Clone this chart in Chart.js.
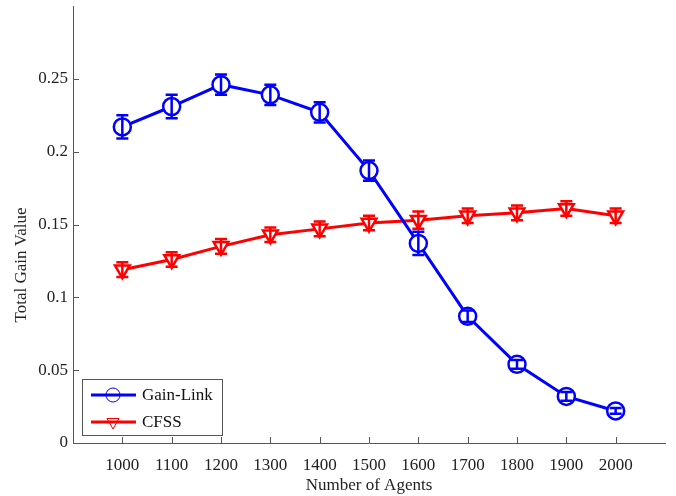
<!DOCTYPE html>
<html>
<head>
<meta charset="utf-8">
<script src="https://cdn.jsdelivr.net/npm/chart.js@4.4.1/dist/chart.umd.min.js"></script>
<style>
  html, body { margin: 0; padding: 0; background: #fff; }
  #wrap { width: 676px; height: 496px; }
</style>
</head>
<body>
<div id="wrap"><canvas id="gain-chart"></canvas></div>
<script>
// values
var agents = [1000, 1100, 1200, 1300, 1400, 1500, 1600, 1700, 1800, 1900, 2000];
var gainLink = [0.217, 0.231, 0.246, 0.239, 0.227, 0.187, 0.137, 0.087, 0.054, 0.032, 0.022];
var gainLinkErr = [0.008, 0.008, 0.007, 0.007, 0.007, 0.007, 0.008, 0.004, 0.003, 0.003, 0.002];
var cfss = [0.119, 0.126, 0.135, 0.143, 0.147, 0.151, 0.153, 0.156, 0.158, 0.161, 0.156];
var cfssErr = [0.005, 0.005, 0.005, 0.005, 0.005, 0.005, 0.006, 0.005, 0.005, 0.005, 0.005];
var xTicks = [1000, 1100, 1200, 1300, 1400, 1500, 1600, 1700, 1800, 1900, 2000];
var yTicks = [0, 0.05, 0.1, 0.15, 0.2, 0.25];
var yMax = 0.3;
var seriesNames = ['Gain-Link', 'CFSS'];

var FONT = '"Liberation Serif", "Times New Roman", serif';
var AXIS_COLOR = '#555';

function toPoints(xs, ys) {
  return xs.map(function (x, i) { return { x: x, y: ys[i] }; });
}

/** error bars + inward ticks + legend box + y title */
var extrasPlugin = {
  id: 'extras',
  afterDatasetsDraw: function (chart) {
    var ctx = chart.ctx;
    var xs = chart.scales.x, ys = chart.scales.y;
    var errs = [gainLinkErr, cfssErr];
    ctx.save();
    chart.data.datasets.forEach(function (ds, di) {
      ctx.strokeStyle = ds.borderColor;
      ctx.lineWidth = 2.5;
      ds.data.forEach(function (p, i) {
        var px = xs.getPixelForValue(p.x);
        var top = ys.getPixelForValue(p.y + errs[di][i]);
        var bot = ys.getPixelForValue(p.y - errs[di][i]);
        ctx.beginPath();
        ctx.moveTo(px, top); ctx.lineTo(px, bot);
        ctx.moveTo(px - 6, top); ctx.lineTo(px + 6, top);
        ctx.moveTo(px - 6, bot); ctx.lineTo(px + 6, bot);
        ctx.stroke();
      });
    });
    ctx.restore();
  },
  afterDraw: function (chart) {
    var ctx = chart.ctx;
    var area = chart.chartArea;
    var xs = chart.scales.x, ys = chart.scales.y;
    ctx.save();
    // inward ticks like matlab
    ctx.strokeStyle = AXIS_COLOR;
    ctx.lineWidth = 1;
    ctx.beginPath();
    xTicks.forEach(function (t) {
      var px = Math.round(xs.getPixelForValue(t)) + 0.5;
      ctx.moveTo(px, area.bottom); ctx.lineTo(px, area.bottom - 6);
    });
    yTicks.forEach(function (t) {
      var py = Math.round(ys.getPixelForValue(t)) + 0.5;
      ctx.moveTo(area.left, py); ctx.lineTo(area.left + 6, py);
    });
    ctx.stroke();

    // y axis title
    ctx.fillStyle = '#222';
    ctx.font = '17px ' + FONT;
    ctx.textAlign = 'center';
    ctx.textBaseline = 'middle';
    ctx.translate(22, 265);
    ctx.rotate(-Math.PI / 2);
    ctx.fillText('Total Gain Value', 0, 0);
    ctx.setTransform(1, 0, 0, 1, 0, 0);

    // legend box
    var lx = 82, ly = 379, lw = 140, lh = 56;
    ctx.fillStyle = '#fff';
    ctx.fillRect(lx, ly, lw, lh);
    ctx.strokeStyle = AXIS_COLOR;
    ctx.strokeRect(lx + 0.5, ly + 0.5, lw, lh);
    chart.data.datasets.forEach(function (ds, di) {
      var rowY = ly + 16 + di * 27;
      ctx.strokeStyle = ds.borderColor;
      ctx.lineWidth = 3;
      ctx.beginPath();
      ctx.moveTo(lx + 9, rowY); ctx.lineTo(lx + 54, rowY);
      ctx.stroke();
      ctx.lineWidth = 1;
      ctx.fillStyle = 'rgba(0,0,0,0)';
      Chart.helpers.drawPoint(ctx, {
        pointStyle: ds.pointStyle,
        radius: 7,
        rotation: ds.pointRotation || 0,
        borderWidth: 1
      }, lx + 31, rowY);
      ctx.fillStyle = '#111';
      ctx.font = '17px ' + FONT;
      ctx.textAlign = 'left';
      ctx.textBaseline = 'middle';
      ctx.fillText(seriesNames[di], lx + 60, rowY + 1);
    });
    ctx.restore();
  }
};

new Chart(document.getElementById('gain-chart'), {
  type: 'line',
  data: {
    datasets: [{
      label: seriesNames[0],
      data: toPoints(agents, gainLink),
      borderColor: '#0000ff',
      borderWidth: 3,
      pointStyle: 'circle',
      pointRadius: 8.5,
      pointBorderWidth: 2.5,
      pointBackgroundColor: '#fff',
      pointBorderColor: '#0000ff',
      tension: 0
    }, {
      label: seriesNames[1],
      data: toPoints(agents, cfss),
      borderColor: '#ff0000',
      borderWidth: 3,
      pointStyle: 'triangle',
      pointRotation: 180,
      pointRadius: 8.5,
      pointBorderWidth: 2.5,
      pointBackgroundColor: '#fff',
      pointBorderColor: '#ff0000',
      tension: 0
    }]
  },
  options: {
    responsive: true,
    maintainAspectRatio: false,
    animation: false,
    layout: { autoPadding: false, padding: { top: 6, right: 11, left: 0, bottom: 0 } },
    plugins: { legend: { display: false }, tooltip: { enabled: false } },
    scales: {
      x: {
        type: 'linear',
        min: 900,
        max: 2100,
        grid: { display: false, drawTicks: false },
        border: { display: true, color: AXIS_COLOR, width: 1 },
        afterBuildTicks: function (scale) {
          scale.ticks = xTicks.map(function (v) { return { value: v }; });
        },
        afterFit: function (scale) {
          scale.height = 53;
          scale.paddingLeft = 0;
          scale.paddingRight = 0;
        },
        ticks: {
          color: '#222',
          padding: 12,
          font: { family: FONT, size: 17 },
          callback: function (v) { return String(v); }
        },
        title: {
          display: true,
          text: 'Number of Agents',
          color: '#222',
          padding: { top: 0, bottom: 0 },
          font: { family: FONT, size: 17 }
        }
      },
      y: {
        min: 0,
        max: yMax,
        grid: { display: false, drawTicks: false },
        border: { display: true, color: AXIS_COLOR, width: 1 },
        afterBuildTicks: function (scale) {
          scale.ticks = yTicks.map(function (v) { return { value: v }; });
        },
        afterFit: function (scale) {
          scale.width = 73;
          scale.paddingTop = 0;
          scale.paddingBottom = 0;
        },
        ticks: {
          color: '#222',
          padding: 5,
          font: { family: FONT, size: 17 },
          callback: function (v) { return String(Math.round(v * 100) / 100); }
        }
      }
    }
  },
  plugins: [extrasPlugin]
});
</script>
</body>
</html>
